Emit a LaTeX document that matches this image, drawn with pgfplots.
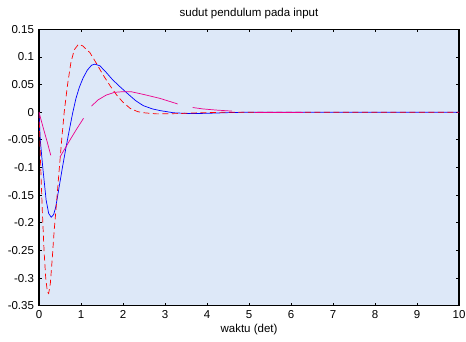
\documentclass[border=0pt]{standalone}
\usepackage{fontspec}
\setmainfont{Liberation Sans}
\usepackage{pgfplots}
\pgfplotsset{compat=1.18}
\definecolor{bgblue}{RGB}{221,232,248}
\begin{document}
\fontsize{11.5}{13}\selectfont
\begin{tikzpicture}
\path[use as bounding box] (-39pt,-35.3pt) rectangle (427pt,305.7pt);
\begin{axis}[
  at={(0pt,0pt)}, anchor=south west,
  scale only axis, width=420pt, height=276.4pt,
  xmin=0, xmax=10, ymin=-0.35, ymax=0.15,
  xtick={0,1,...,10},
  ytick={-0.35,-0.3,-0.25,-0.2,-0.15,-0.1,-0.05,0,0.05,0.1,0.15},
  yticklabels={-0.35,-0.3,-0.25,-0.2,-0.15,-0.1,-0.05,0,0.05,0.1,0.15},
  scaled y ticks=false,
  /pgf/number format/assume math mode=true,
  tick align=inside, major tick length=3pt,
  tick style={black, line width=0.8pt},
  axis line style={black, line width=1.1pt},
  axis background/.style={fill=bgblue},
  ticklabel style={font=\fontsize{11.5}{13}\selectfont},
  title={sudut pendulum pada input},
  title style={font=\fontsize{11.5}{13}\selectfont, yshift=0pt},
  xlabel={waktu (det)},
  xlabel style={font=\fontsize{11.5}{13}\selectfont, yshift=3pt},
  xticklabel style={yshift=-1pt},
  yticklabel style={xshift=-1pt},
  unbounded coords=jump,
]
\addplot[color=blue, line width=0.7pt] coordinates {
(0,0) (0.03,-0.05) (0.09,-0.1) (0.17,-0.159) (0.23,-0.183) (0.29,-0.19)
(0.35,-0.185) (0.4,-0.171) (0.48,-0.135) (0.56,-0.099) (0.64,-0.065)
(0.72,-0.033) (0.8,-0.002) (0.88,0.025) (0.96,0.045) (1.05,0.062)
(1.15,0.076) (1.25,0.085) (1.33,0.087) (1.45,0.084) (1.6,0.072)
(1.75,0.059) (1.9,0.048) (2.09,0.035) (2.3,0.021) (2.48,0.012)
(2.7,0.006) (2.88,0.003) (3.2,-0.001) (3.6,-0.0025) (4.0,-0.002)
(4.6,-0.0005) (5,0) (10,0)
};
\addplot[color=red, line width=0.7pt, dash pattern=on 6pt off 3.5pt] coordinates {
(0,0) (0.02,-0.05) (0.05,-0.12) (0.08,-0.18) (0.12,-0.25) (0.16,-0.3)
(0.2,-0.325) (0.23,-0.328) (0.27,-0.31) (0.32,-0.26) (0.36,-0.215)
(0.4,-0.18) (0.48,-0.105) (0.54,-0.05) (0.6,0.0) (0.68,0.05) (0.76,0.09)
(0.84,0.113) (0.94,0.123) (1.04,0.12) (1.21,0.108) (1.37,0.088)
(1.53,0.067) (1.7,0.047) (1.85,0.031) (2.0,0.018) (2.17,0.007)
(2.35,0.001) (2.5,-0.001) (2.8,-0.003) (3.3,-0.0025) (3.8,-0.001)
(4.5,0) (10,0)
};
\addplot[color=magenta, line width=0.7pt] coordinates {
(0,0) (0.1,-0.028) (0.2,-0.055) (0.28,-0.078)
(0.3,nan)
(0.5,-0.081) (0.7,-0.055) (0.9,-0.03) (1.06,-0.011)
(1.1,nan)
(1.25,0.011) (1.4,0.022) (1.6,0.031) (1.8,0.036) (1.97,0.037) (2.2,0.037)
(2.5,0.032) (2.88,0.025) (3.05,0.021) (3.3,0.015)
(3.4,nan)
(3.66,0.0085) (3.9,0.006) (4.2,0.004) (4.6,0.002)
(4.8,nan)
(5.14,-0.0006) (6.29,-0.0006)
};
\end{axis}
\end{tikzpicture}
\end{document}
